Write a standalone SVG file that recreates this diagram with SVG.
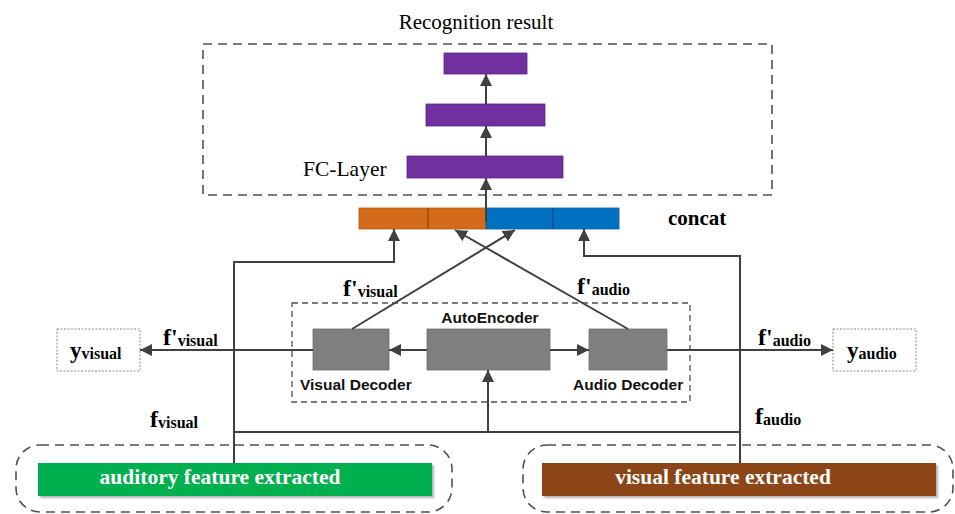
<svg xmlns="http://www.w3.org/2000/svg" width="955" height="514" viewBox="0 0 955 514">
  <style>
    .serif { font-family: "Liberation Serif", "Times New Roman", serif; fill: #000; }
    .bold { font-weight: bold; }
    .sans { font-family: "Liberation Sans", Arial, sans-serif; font-weight: bold; font-size: 15.5px; fill: #111; }
    .dash-big { fill: none; stroke: #505050; stroke-width: 1.6; stroke-dasharray: 9 6; }
    .dash-mid { fill: none; stroke: #505050; stroke-width: 1.3; stroke-dasharray: 6 4; }
    .dot-box { fill: #fff; stroke: #8a8a8a; stroke-width: 1; stroke-dasharray: 2 1.5; }
    .fc { fill: #7030A0; stroke: #5a2585; stroke-width: 0.8; }
    .gray { fill: #7F7F7F; stroke: #6f6f6f; stroke-width: 0.8; }
    .wire { fill: none; stroke: #404040; stroke-width: 2; }
    .arrow { marker-end: url(#head); }
    .sub { font-size: 16px; }
  </style>
  <defs>
    <marker id="head" markerUnits="userSpaceOnUse" markerWidth="12" markerHeight="12" viewBox="0 0 12 12" refX="12" refY="6" orient="auto">
      <path d="M0,0 L12,6 L0,12 z" fill="#404040"/>
    </marker>
    <filter id="shadow" x="-5%" y="-20%" width="110%" height="150%">
      <feDropShadow dx="2" dy="2" stdDeviation="1.2" flood-color="#000" flood-opacity="0.3"/>
    </filter>
  </defs>

  <!-- Fully connected classifier -->
  <g id="classifier">
    <text class="serif" x="476" y="29" font-size="21" text-anchor="middle">Recognition result</text>
    <rect class="dash-big" x="203" y="44" width="569" height="151"/>
    <rect class="fc" x="444" y="53" width="83" height="21"/>
    <rect class="fc" x="426" y="104" width="119" height="22"/>
    <rect class="fc" x="407" y="156" width="156" height="22"/>
    <text class="serif" x="303" y="176" font-size="21.5">FC-Layer</text>
  </g>

  <!-- Concatenated feature vector -->
  <g id="concat">
    <rect x="359" y="208" width="127" height="21" fill="#D46B1A" stroke="#b85a14" stroke-width="0.8"/>
    <rect x="486" y="208" width="133" height="21" fill="#0070C0" stroke="#005ea3" stroke-width="0.8"/>
    <line x1="428" y1="208" x2="428" y2="229" stroke="#7a3d0e" stroke-width="1"/>
    <line x1="553" y1="208" x2="553" y2="229" stroke="#003f70" stroke-width="1"/>
    <text class="serif bold" x="668" y="225" font-size="21">concat</text>
  </g>

  <!-- AutoEncoder block -->
  <g id="autoencoder">
    <rect class="dash-mid" x="292" y="303" width="398" height="99"/>
    <rect class="gray" x="427" y="329" width="123" height="41"/>
    <text class="sans" x="490" y="323" text-anchor="middle">AutoEncoder</text>
  </g>
  <g id="visual-decoder">
    <rect class="gray" x="313" y="329" width="76" height="41"/>
    <text class="sans" x="300" y="390">Visual Decoder</text>
  </g>
  <g id="audio-decoder">
    <rect class="gray" x="589" y="329" width="78" height="41"/>
    <text class="sans" x="573" y="390">Audio Decoder</text>
  </g>

  <!-- Reconstruction outputs -->
  <g id="y-visual">
    <rect class="dot-box" x="57" y="329" width="83" height="42"/>
    <text class="serif bold" x="70" y="358" font-size="23">y<tspan class="sub" dy="1">visual</tspan></text>
  </g>
  <g id="y-audio">
    <rect class="dot-box" x="833" y="329" width="83" height="42"/>
    <text class="serif bold" x="847" y="358" font-size="23">y<tspan class="sub" dy="1">audio</tspan></text>
  </g>

  <!-- Feature extractors -->
  <g id="auditory-extractor">
    <rect class="dash-big" x="16" y="445" width="436" height="67" rx="24" ry="24"/>
    <rect x="38" y="463" width="394" height="33" fill="#00B050" filter="url(#shadow)"/>
    <text class="serif bold" x="220" y="484" font-size="21.5" text-anchor="middle" style="fill:#fff">auditory feature extracted</text>
  </g>
  <g id="visual-extractor">
    <rect class="dash-big" x="523" y="445" width="430" height="67" rx="24" ry="24"/>
    <rect x="542" y="463" width="394" height="33" fill="#8B4513" filter="url(#shadow)"/>
    <text class="serif bold" x="723" y="484" font-size="21.5" text-anchor="middle" style="fill:#fff">visual feature extracted</text>
  </g>

  <!-- Connectors -->
  <g id="connectors">
    <!-- classifier stack -->
    <line class="wire arrow" x1="486" y1="222" x2="486" y2="178"/>
    <line class="wire arrow" x1="486" y1="156" x2="486" y2="126"/>
    <line class="wire arrow" x1="486" y1="104" x2="486" y2="74"/>
    <!-- raw features to concat -->
    <polyline class="wire arrow" points="234,463 234,262 394,262 394,229"/>
    <polyline class="wire arrow" points="740,463 740,256 584,256 584,229"/>
    <!-- decoded features to concat (crossing) -->
    <line class="wire arrow" x1="352" y1="329" x2="515" y2="230" stroke-width="1.6"/>
    <line class="wire arrow" x1="628" y1="329" x2="455" y2="230" stroke-width="1.6"/>
    <!-- encoder input -->
    <line class="wire" x1="234" y1="432" x2="740" y2="432"/>
    <line class="wire arrow" x1="488" y1="432" x2="488" y2="370"/>
    <!-- encoder to decoders -->
    <line class="wire arrow" x1="427" y1="350" x2="389" y2="350"/>
    <line class="wire arrow" x1="550" y1="350" x2="589" y2="350"/>
    <!-- decoders to reconstructions -->
    <line class="wire arrow" x1="313" y1="350" x2="140" y2="350"/>
    <line class="wire arrow" x1="667" y1="350" x2="833" y2="350"/>
  </g>

  <!-- Feature labels -->
  <g id="labels">
    <text class="serif bold" x="343" y="296" font-size="24">f'<tspan class="sub" dy="1">visual</tspan></text>
    <text class="serif bold" x="577" y="294" font-size="24">f'<tspan class="sub" dy="1">audio</tspan></text>
    <text class="serif bold" x="163" y="345" font-size="24">f'<tspan class="sub" dy="1">visual</tspan></text>
    <text class="serif bold" x="758" y="345" font-size="24">f'<tspan class="sub" dy="1">audio</tspan></text>
    <text class="serif bold" x="150" y="427" font-size="24">f<tspan class="sub" dy="1">visual</tspan></text>
    <text class="serif bold" x="755" y="424" font-size="24">f<tspan class="sub" dy="1">audio</tspan></text>
  </g>
</svg>
